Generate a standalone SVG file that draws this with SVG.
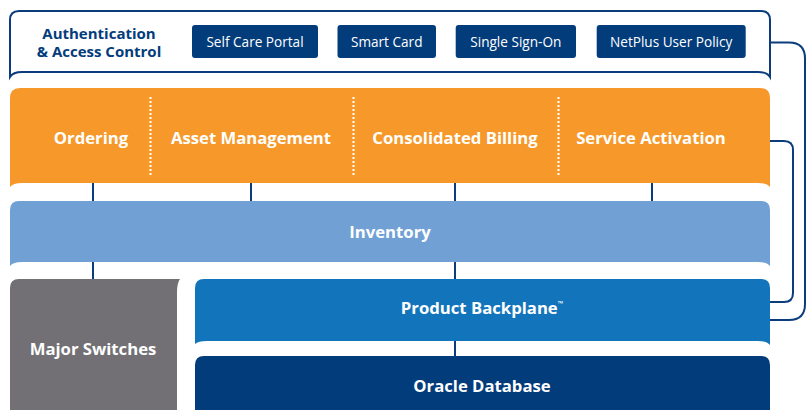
<svg xmlns="http://www.w3.org/2000/svg" width="806" height="410" viewBox="0 0 806 410">
<style>
text{font-family:"Open Sans","Noto Sans","Liberation Sans",sans-serif;text-anchor:middle}
.lbl{font-size:16.7px;font-weight:bold;fill:#fff}
.btn{fill:#033c7b}
.btxt{font-size:13.6px;fill:#fff}
.conn{fill:none;stroke:#0b3c7b;stroke-width:2}
.dot{stroke:#fff;stroke-width:2;stroke-dasharray:2 2}
</style>
<g id="connectors">
<path class="conn" d="M93,180V204M251,180V204M455,180V204M652,180V204M93,258V282M455,258V282M455,338V359"/>
<path class="conn" d="M770,42.5H789Q805,42.5 805,58.5V304Q805,320 789,320H770"/>
<path class="conn" d="M770,141H784Q793,141 793,150V293Q793,302 784,302H770"/>
</g>
<g id="auth">
<path d="M10,77V20Q10,11 19,11H761Q770,11 770,20V77Q767,72 758,72H22Q13,72 10,77Z" fill="#fff" stroke="#0b3c7b" stroke-width="2"/>
<text x="99" y="39" font-size="15" font-weight="bold" fill="#033c7b">Authentication</text>
<text x="99" y="57" font-size="15" font-weight="bold" fill="#033c7b">&amp; Access Control</text>
</g>
<g id="selfcare"><rect class="btn" x="192" y="25" width="126" height="33" rx="3"/><text class="btxt" x="255" y="47">Self Care Portal</text></g>
<g id="smartcard"><rect class="btn" x="337.5" y="25" width="98.5" height="33" rx="3"/><text class="btxt" x="386.7" y="47">Smart Card</text></g>
<g id="sso"><rect class="btn" x="455.7" y="25" width="120.3" height="33" rx="3"/><text class="btxt" x="515.8" y="47">Single Sign-On</text></g>
<g id="netplus"><rect class="btn" x="596.7" y="25" width="149" height="33" rx="3"/><text class="btxt" x="671.2" y="47">NetPlus User Policy</text></g>
<g id="apps">
<path d="M10,187V98Q10,88 20,88H760Q770,88 770,98V187Q767,183 758,183H22Q13,183 10,187Z" fill="#f6992a"/>
<line class="dot" x1="150.5" y1="97" x2="150.5" y2="175"/>
<line class="dot" x1="353.5" y1="97" x2="353.5" y2="175"/>
<line class="dot" x1="558.5" y1="97" x2="558.5" y2="175"/>
<text class="lbl" x="91" y="144">Ordering</text>
<text class="lbl" x="251" y="144">Asset Management</text>
<text class="lbl" x="455" y="144">Consolidated Billing</text>
<text class="lbl" x="651" y="144">Service Activation</text>
</g>
<g id="inventory">
<path d="M10,266V210Q10,201 19,201H761Q770,201 770,210V266Q767,262 758,262H22Q13,262 10,266Z" fill="#71a1d4"/>
<text class="lbl" x="390" y="238">Inventory</text>
</g>
<g id="switches">
<path d="M10,410V288Q10,279 19,279H180Q177,283 177,292V410Z" fill="#727075"/>
<text class="lbl" x="93" y="355">Major Switches</text>
</g>
<g id="backplane">
<path d="M195,344V288Q195,279 204,279H761Q770,279 770,288V345Q767,341 758,341H207Q198,341 195,344Z" fill="#1275bc"/>
<text class="lbl" x="482" y="314">Product Backplane<tspan font-size="7" dy="-8">™</tspan></text>
</g>
<g id="oracle">
<path d="M195,410V365Q195,356 204,356H761Q770,356 770,365V410Z" fill="#033c7b"/>
<text class="lbl" x="482" y="392">Oracle Database</text>
</g>
</svg>
